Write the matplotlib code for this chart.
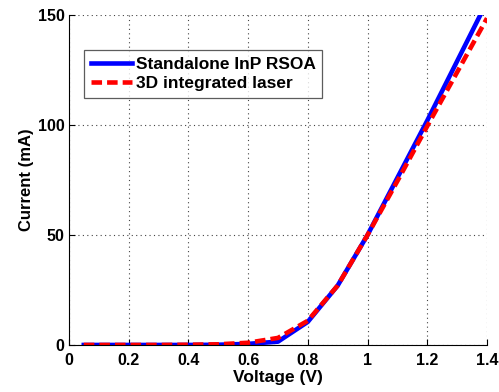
import matplotlib
matplotlib.use("Agg")
import matplotlib.pyplot as plt

plt.rcParams['font.family'] = ['Liberation Sans', 'DejaVu Sans']
plt.rcParams['font.weight'] = 'bold'

# voltage (V) and current (mA)
voltage = [0.05, 0.1, 0.2, 0.3, 0.4, 0.5, 0.6, 0.7, 0.8, 0.9, 1.0, 1.1, 1.2, 1.3, 1.4]
rsoa_current = [0, 0, 0, 0, 0, 0.1, 0.5, 1.5, 10.5, 27, 50, 76, 102, 129, 156]
laser_current = [0, 0, 0, 0, 0.1, 0.3, 1.0, 3.2, 11, 27, 50, 74.5, 99.5, 124, 148.5]

xticks = [0, 0.2, 0.4, 0.6, 0.8, 1, 1.2, 1.4]
xticklabels = ['0', '0.2', '0.4', '0.6', '0.8', '1', '1.2', '1.4']
yticks = [0, 50, 100, 150]

fig = plt.figure(figsize=(4.99, 3.92), dpi=100)
ax = fig.add_axes([0.138, 0.120, 0.838, 0.842])

ax.plot(voltage, rsoa_current, color='#0000ff', linewidth=3.3, label='Standalone InP RSOA')
ax.plot(voltage, laser_current, color='#ff0000', linewidth=3.3, linestyle=(0, (2.3, 1.1)),
        label='3D integrated laser')

ax.set_xlim(0, 1.4)
ax.set_ylim(0, 150)
ax.set_xticks(xticks)
ax.set_xticklabels(xticklabels)
ax.set_yticks(yticks)
ax.tick_params(direction='in', length=4, labelsize=11.5, width=0.8, pad=3)
ax.tick_params(axis='x', pad=6)
for lab in ax.get_xticklabels() + ax.get_yticklabels():
    lab.set_fontweight('bold')

ax.grid(True, linestyle=(0, (1, 3)), color='#444444', linewidth=0.8)
ax.spines['top'].set_visible(False)
ax.spines['right'].set_visible(False)

ax.set_xlabel('Voltage (V)', fontsize=12.5, fontweight='bold', labelpad=1)
ax.set_ylabel('Current (mA)', fontsize=12, fontweight='bold', labelpad=3)

leg = ax.legend(loc='upper left', bbox_to_anchor=(0.036, 0.893), fontsize=12.5,
                frameon=True, fancybox=False, edgecolor='#333333', handlelength=2.4,
                borderpad=0.38, labelspacing=0.25, handletextpad=0.2, borderaxespad=0)
leg.get_frame().set_linewidth(0.9)
for t in leg.get_texts():
    t.set_fontweight('bold')

fig.savefig('out.png', dpi=100)
